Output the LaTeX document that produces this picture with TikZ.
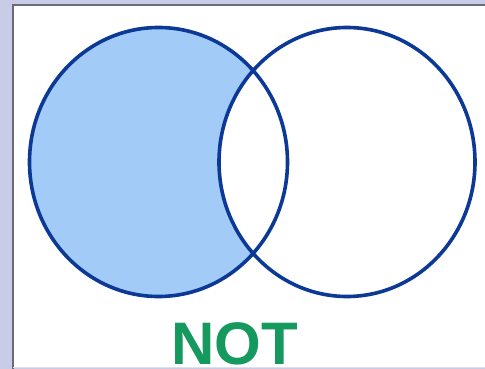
\documentclass[tikz,border=0pt]{standalone}
\usepackage{fontspec}
\setmainfont{Liberation Sans}
\definecolor{bgl}{HTML}{C8CCE6}
\definecolor{ringc}{HTML}{0C3896}
\definecolor{fillc}{HTML}{A2CBF8}
\definecolor{notc}{HTML}{16995F}
\definecolor{framec}{HTML}{6A6A78}
\tikzset{ring/.style={draw=ringc,line width=3.6pt},
  lbl/.style={text=notc,font=\bfseries\fontsize{60}{60}\selectfont,inner sep=0pt,anchor=base}}
\begin{document}
\begin{tikzpicture}[x=1pt,y=-1pt]
\useasboundingbox (0,0) rectangle (485,369);
\fill[bgl] (0,0) rectangle (485,369);
\fill[white] (13,5) rectangle (485,367);
\draw[framec,line width=1.6pt] (13,369) -- (13,5) -- (485,5);
\draw[bgl!60!white,line width=1pt] (13,367.5) -- (485,367.5);
\coordinate (lc) at (158.5,162);
\coordinate (rc) at (347,162);
\begin{scope}
  \fill[fillc] (lc) ellipse [x radius=129, y radius=134.5];
  \clip (lc) ellipse [x radius=129, y radius=134.5];
  \fill[white] (rc) ellipse [x radius=128, y radius=134.5];
\end{scope}
\draw[ring] (lc) ellipse [x radius=129, y radius=134.5];
\draw[ring] (rc) ellipse [x radius=128, y radius=134.5];
\node[lbl] (not) at (235,364) {NOT};
\end{tikzpicture}
\end{document}
